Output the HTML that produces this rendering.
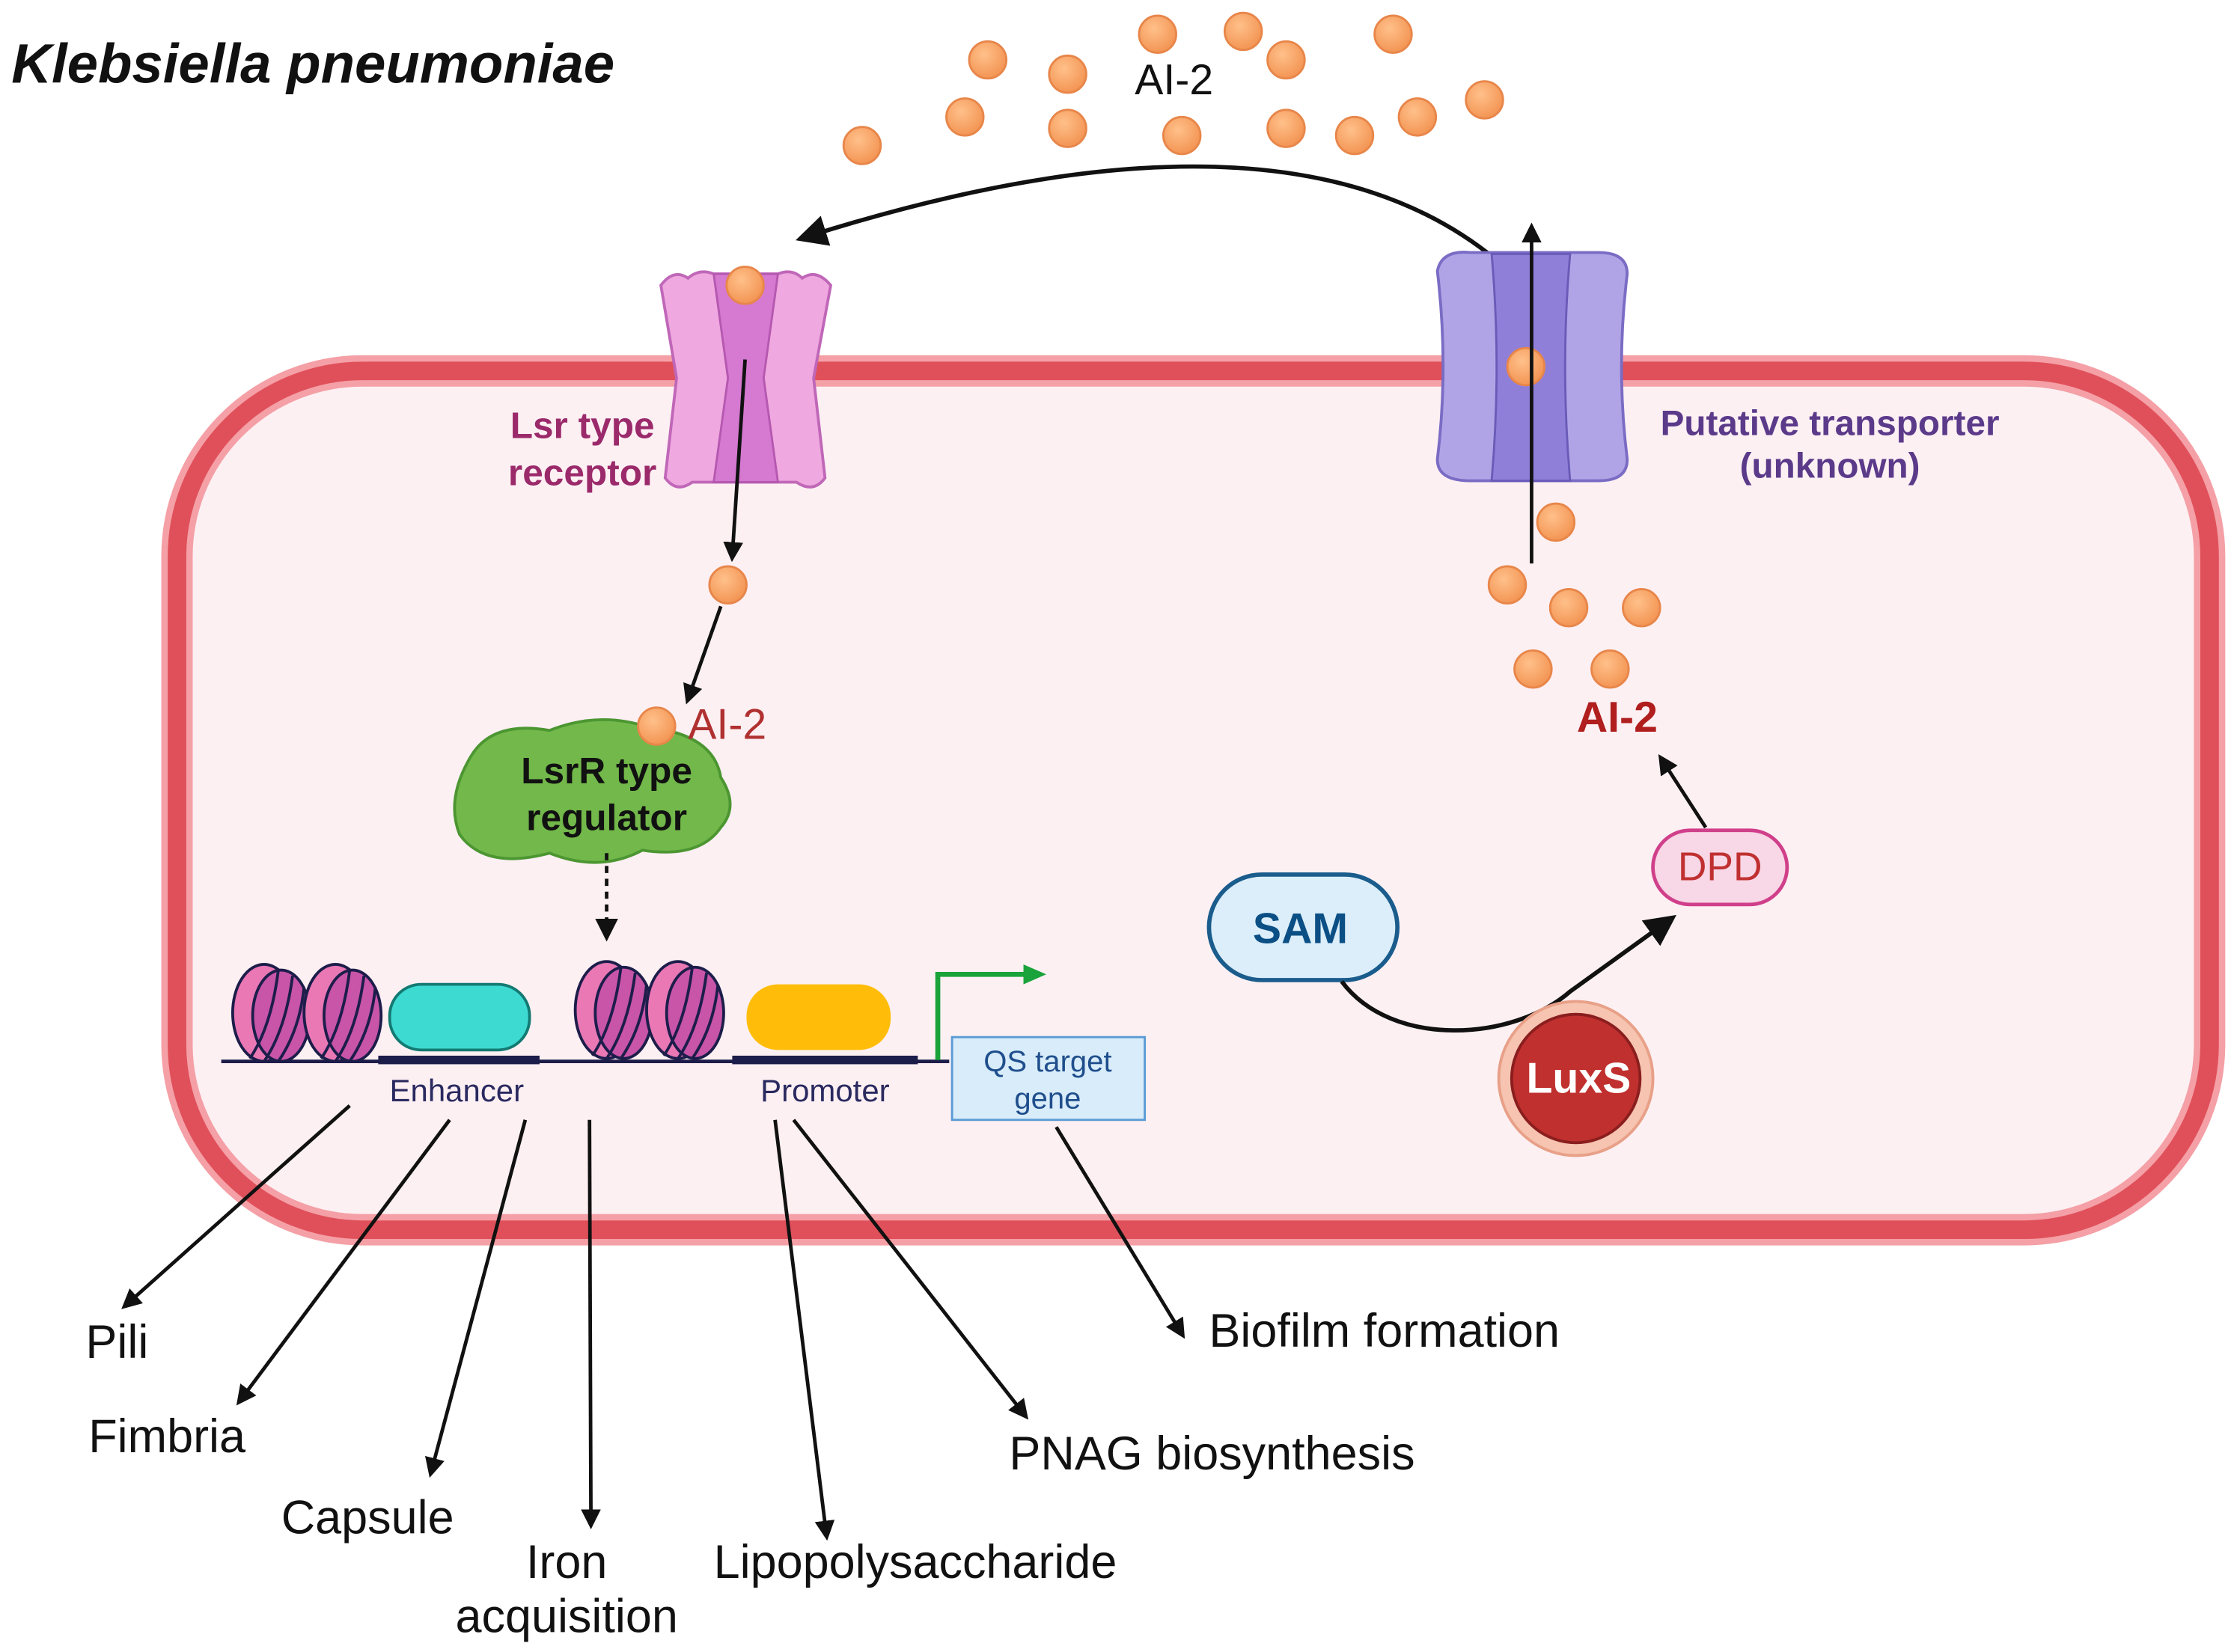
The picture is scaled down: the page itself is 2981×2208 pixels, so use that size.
<!DOCTYPE html>
<html><head><meta charset="utf-8"><style>html,body{margin:0;padding:0;background:#fff}svg{display:block}</style></head>
<body>
<svg width="2981" height="2208" viewBox="0 0 1563 1158" preserveAspectRatio="none" xmlns="http://www.w3.org/2000/svg" font-family="Liberation Sans, sans-serif">
<defs>
<marker id="ah2" markerWidth="14" markerHeight="14" refX="10" refY="7" orient="auto" markerUnits="userSpaceOnUse"><path d="M0,0 L14,7 L0,14 Z" fill="#111"/></marker>
<marker id="ahb" markerWidth="22" markerHeight="22" refX="14" refY="11" orient="auto" markerUnits="userSpaceOnUse"><path d="M0,0 L22,11 L0,22 Z" fill="#111"/></marker>
<marker id="ahg" markerWidth="16" markerHeight="16" refX="8" refY="8" orient="auto" markerUnits="userSpaceOnUse"><path d="M0,1 L16,8 L0,15 Z" fill="#1aa33a"/></marker>
<radialGradient id="org" cx="0.4" cy="0.35" r="0.7"><stop offset="0" stop-color="#ffc08a"/><stop offset="1" stop-color="#f29250"/></radialGradient>
</defs>
<rect width="1563" height="1158" fill="#fff"/>
<rect x="124" y="260" width="1424" height="602" rx="130" fill="#fdf0f3" stroke="#f4a0a6" stroke-width="22"/>
<rect x="124" y="260" width="1424" height="602" rx="130" fill="none" stroke="#e0505a" stroke-width="13"/>
<text x="8" y="58" font-size="39" font-weight="bold" font-style="italic" fill="#111">Klebsiella pneumoniae</text>
<g fill="url(#org)" stroke="#e8864a" stroke-width="1.5">
<circle cx="692" cy="42" r="13"/><circle cx="748" cy="52" r="13"/><circle cx="811" cy="24" r="13"/><circle cx="871" cy="22" r="13"/><circle cx="901" cy="42" r="13"/><circle cx="976" cy="24" r="13"/><circle cx="604" cy="102" r="13"/><circle cx="676" cy="82" r="13"/><circle cx="748" cy="90" r="13"/><circle cx="828" cy="95" r="13"/><circle cx="901" cy="90" r="13"/><circle cx="949" cy="95" r="13"/><circle cx="993" cy="82" r="13"/><circle cx="1040" cy="70" r="13"/>
</g>
<text x="795" y="66" font-size="30" fill="#111">AI-2</text>
<path d="M1048,182 Q900,60 565,166" fill="none" stroke="#111" stroke-width="3" marker-end="url(#ahb)"/>
<path d="M463,200 Q472,188 482,195 Q490,188 500,192 L545,192 Q555,188 562,195 Q572,188 582,200 L570,265 L578,335 Q570,346 558,338 L485,338 Q474,346 466,335 L474,265 Z" fill="#f0a8e0" stroke="#c067b8" stroke-width="2"/>
<path d="M500,192 L545,192 L535,265 L545,338 L500,338 L510,265 Z" fill="#d57ad0" stroke="#b558b0" stroke-width="1.5"/>
<circle cx="522" cy="200" r="13" fill="url(#org)" stroke="#e8864a" stroke-width="1.5"/>
<text x="408" y="307" font-size="26" font-weight="bold" fill="#9b2a6b" text-anchor="middle">Lsr type</text>
<text x="408" y="340" font-size="26" font-weight="bold" fill="#9b2a6b" text-anchor="middle">receptor</text>
<path d="M1007,190 Q1010,175 1030,177 L1120,177 Q1140,177 1140,192 Q1132,257 1140,322 Q1140,337 1120,337 L1030,337 Q1007,337 1007,322 Q1015,257 1007,190 Z" fill="#b0a4e6" stroke="#7a6cc4" stroke-width="2"/>
<path d="M1045,178 L1100,178 Q1093,257 1100,337 L1045,337 Q1052,257 1045,178 Z" fill="#8f7fd8" stroke="#6a5bb8" stroke-width="1.5"/>
<circle cx="1069" cy="257" r="13" fill="url(#org)" stroke="#e8864a" stroke-width="1.5"/>
<line x1="1073" y1="395" x2="1073" y2="160" stroke="#111" stroke-width="2.5" marker-end="url(#ah2)"/>
<text x="1282" y="305" font-size="25" font-weight="bold" fill="#5b3a8a" text-anchor="middle">Putative transporter</text>
<text x="1282" y="335" font-size="25" font-weight="bold" fill="#5b3a8a" text-anchor="middle">(unknown)</text>
<line x1="522" y1="252" x2="513" y2="390" stroke="#111" stroke-width="2.5" marker-end="url(#ah2)"/>
<circle cx="510" cy="410" r="13" fill="url(#org)" stroke="#e8864a" stroke-width="1.5"/>
<line x1="505" y1="425" x2="482" y2="490" stroke="#111" stroke-width="2.5" marker-end="url(#ah2)"/>
<path d="M330,530 Q345,505 385,512 Q420,498 455,510 Q500,515 505,545 Q518,565 505,580 Q490,602 450,596 Q420,612 385,598 Q340,610 322,585 Q312,560 330,530 Z" fill="#72b84a" stroke="#4c9632" stroke-width="2"/>
<circle cx="460" cy="509" r="13" fill="url(#org)" stroke="#e8864a" stroke-width="1.5"/>
<text x="482" y="518" font-size="30" fill="#b03030">AI-2</text>
<text x="425" y="549" font-size="26" font-weight="bold" fill="#111" text-anchor="middle">LsrR type</text>
<text x="425" y="582" font-size="26" font-weight="bold" fill="#111" text-anchor="middle">regulator</text>
<line x1="425" y1="598" x2="425" y2="648" stroke="#111" stroke-width="2.5" stroke-dasharray="5,4"/>
<path d="M417,644 L433,644 L425,660 Z" fill="#111"/>
<line x1="155" y1="744" x2="665" y2="744" stroke="#1d1d4a" stroke-width="2.5"/>
<rect x="265" y="740" width="113" height="6" fill="#1d1d4a"/>
<rect x="513" y="740" width="130" height="6" fill="#1d1d4a"/>
<g stroke="#1d1d4a" stroke-width="2">
<g><ellipse cx="185" cy="710" rx="22" ry="34" fill="#e978b5"/><ellipse cx="197" cy="712" rx="20" ry="32" fill="#c855a8"/><path d="M175,742 Q190,720 195,680 M185,744 Q200,722 205,684 M195,744 Q210,722 213,692" fill="none"/></g>
<g><ellipse cx="235" cy="710" rx="22" ry="34" fill="#e978b5"/><ellipse cx="247" cy="712" rx="20" ry="32" fill="#c855a8"/><path d="M225,742 Q240,720 245,680 M235,744 Q250,722 255,684 M245,744 Q260,722 263,692" fill="none"/></g>
<g><ellipse cx="425" cy="708" rx="22" ry="34" fill="#e978b5"/><ellipse cx="437" cy="710" rx="20" ry="32" fill="#c855a8"/><path d="M415,740 Q430,718 435,678 M425,742 Q440,720 445,682 M435,742 Q450,720 453,690" fill="none"/></g>
<g><ellipse cx="475" cy="708" rx="22" ry="34" fill="#e978b5"/><ellipse cx="487" cy="710" rx="20" ry="32" fill="#c855a8"/><path d="M465,740 Q480,718 485,678 M475,742 Q490,720 495,682 M485,742 Q500,720 503,690" fill="none"/></g>
</g>
<rect x="273" y="690" width="98" height="46" rx="22" fill="#3ddad2" stroke="#137a72" stroke-width="2"/>
<rect x="523" y="690" width="101" height="46" rx="22" fill="#ffbd0a"/>
<path d="M657,743 L657,683 L725,683" fill="none" stroke="#1aa33a" stroke-width="3.5" marker-end="url(#ahg)"/>
<rect x="667" y="727" width="135" height="58" fill="#d8ecfa" stroke="#5b9bd5" stroke-width="1.5"/>
<text x="734" y="751" font-size="21" fill="#1f4e8c" text-anchor="middle">QS target</text>
<text x="734" y="777" font-size="21" fill="#1f4e8c" text-anchor="middle">gene</text>
<text x="320" y="772" font-size="22" fill="#2a2a60" text-anchor="middle">Enhancer</text>
<text x="578" y="772" font-size="22" fill="#2a2a60" text-anchor="middle">Promoter</text>
<g fill="url(#org)" stroke="#e8864a" stroke-width="1.5">
<circle cx="1090" cy="366" r="13"/><circle cx="1056" cy="410" r="13"/><circle cx="1099" cy="426" r="13"/><circle cx="1150" cy="426" r="13"/><circle cx="1074" cy="469" r="13"/><circle cx="1128" cy="469" r="13"/>
</g>
<text x="1133" y="513" font-size="30" font-weight="bold" fill="#b01e1e" text-anchor="middle">AI-2</text>
<line x1="1195" y1="580" x2="1164" y2="532" stroke="#111" stroke-width="2.5" marker-end="url(#ah2)"/>
<rect x="1158" y="582" width="94" height="52" rx="26" fill="#f8d7e6" stroke="#d0408a" stroke-width="2.5"/>
<text x="1205" y="617" font-size="28" fill="#c03030" text-anchor="middle">DPD</text>
<rect x="847" y="613" width="132" height="74" rx="37" fill="#dbeefa" stroke="#1a5c8c" stroke-width="3"/>
<text x="911" y="661" font-size="30" font-weight="bold" fill="#0b4f85" text-anchor="middle">SAM</text>
<path d="M940,688 C975,735 1060,730 1100,695 L1168,646" fill="none" stroke="#111" stroke-width="3" marker-end="url(#ahb)"/>
<circle cx="1104" cy="756" r="54" fill="#f6c4b0" stroke="#e8a088" stroke-width="2"/>
<circle cx="1104" cy="756" r="45" fill="#c0302e" stroke="#8a1e1e" stroke-width="2"/>
<text x="1106" y="766" font-size="30" font-weight="bold" fill="#fff" text-anchor="middle">LuxS</text>
<g stroke="#111" stroke-width="2.5" marker-end="url(#ah2)">
<line x1="245" y1="775" x2="88" y2="915"/>
<line x1="315" y1="785" x2="168" y2="982"/>
<line x1="368" y1="785" x2="302" y2="1032"/>
<line x1="413" y1="785" x2="414" y2="1068"/>
<line x1="543" y1="785" x2="579" y2="1076"/>
<line x1="556" y1="785" x2="718" y2="992"/>
<line x1="740" y1="790" x2="828" y2="935"/>
</g>
<g font-size="33" fill="#111">
<text x="60" y="952">Pili</text>
<text x="62" y="1018">Fimbria</text>
<text x="197" y="1075">Capsule</text>
<text x="397" y="1106" text-anchor="middle">Iron</text>
<text x="397" y="1144" text-anchor="middle">acquisition</text>
<text x="500" y="1106">Lipopolysaccharide</text>
<text x="707" y="1030">PNAG biosynthesis</text>
<text x="847" y="944">Biofilm formation</text>
</g>
</svg>
</body></html>
